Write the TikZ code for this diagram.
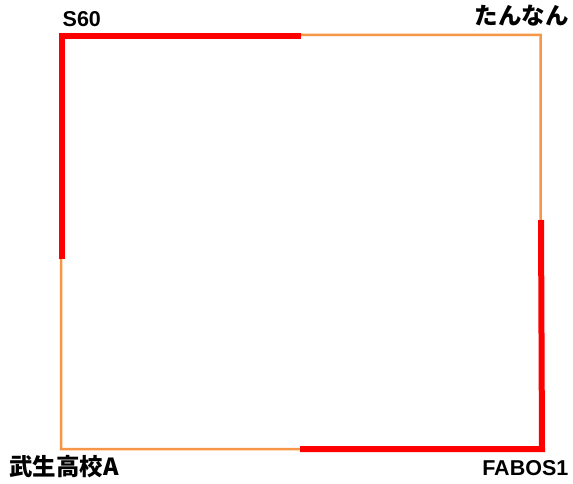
\documentclass[tikz,border=0pt]{standalone}
\usepackage{fontspec}
\setmainfont{Liberation Sans}
\newfontfamily\jpfont{Noto Sans CJK JP}
\definecolor{edgeorange}{HTML}{F79646}
\definecolor{hotred}{HTML}{FF0000}
\begin{document}
\begin{tikzpicture}[x=1pt,y=-1pt,
  thinedge/.style={draw=edgeorange,line width=2.5pt},
  thickedge/.style={draw=hotred,line width=6pt,line join=miter},
  lbl/.style={inner sep=0pt,font=\fontsize{21.5}{24}\selectfont\bfseries},
  jlbl/.style={inner sep=0pt,font=\jpfont\fontsize{23.5}{26}\selectfont\bfseries}]
\useasboundingbox (0,0) rectangle (573,484);
\coordinate (tl) at (61.5,35);
\coordinate (tr) at (540.5,35);
\coordinate (br) at (541,449);
\coordinate (bl) at (61,449);
\coordinate (topmid) at (301,36);
\coordinate (tlred) at (62,36);
\coordinate (leftmid) at (62,259);
\coordinate (rightmid) at (541,220);
\coordinate (brred) at (542,449);
\coordinate (botmid) at (300,449);
\draw[thinedge] (tl) -- (tr) -- (br) -- (bl) -- cycle;
\draw[thickedge] (topmid) -- (tlred) -- (leftmid);
\draw[thickedge] (rightmid) -- (brred) -- (botmid);
\node[lbl,anchor=base west] (s60) at (62.5,27) {S60};
\node[jlbl,anchor=base east] (tannan) at (569,25) {たんなん};
\node[jlbl,anchor=base west] (takefu) at (9,475) {武生高校A};
\node[lbl,anchor=base east] (fabos) at (568.5,475) {FABOS1};
\end{tikzpicture}
\end{document}
